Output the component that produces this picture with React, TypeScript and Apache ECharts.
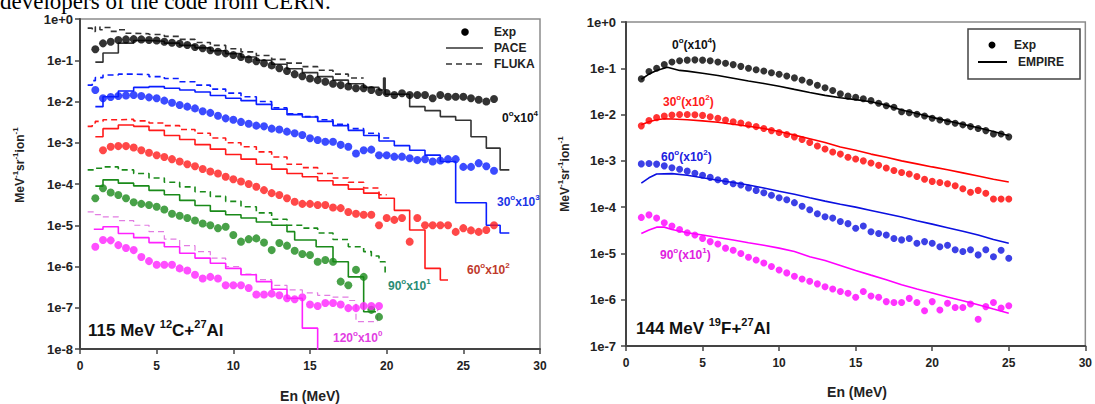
import React, { useEffect, useRef } from 'react';
import * as echarts from 'echarts';

const FONT = '"Liberation Sans", Arial, Helvetica, sans-serif';

// ---------------- Left panel: 115 MeV 12C+27Al ----------------
const L_E_EXP = [1,1.5,2,2.5,3,3.5,4,4.5,5,5.5,6,6.5,7,7.5,8,8.5,9,9.5,10,10.5,11,11.5,12,12.5,13,13.5,14,14.5,15,15.5,16,16.5,17,17.5,18,18.5,19,19.5,20,20.5,21,21.5,22,22.5,23,23.5,24,24.5,25,25.5,26,26.5,27];
const L_E_EXP_RED = [1.5,2,2.5,3,3.5,4,4.5,5,5.5,6,6.5,7,7.5,8,8.5,9,9.5,10,10.5,11,11.5,12,12.5,13,13.5,14,14.5,15,15.5,16,16.5,17,17.5,18,18.5,19,19.5,20,20.5,21,21.5,22,22.5,23,23.5,24,24.5,25,25.5,26,26.5,27];
const L_E_EXP_LOW = [1,1.5,2,2.5,3,3.5,4,4.5,5,5.5,6,6.5,7,7.5,8,8.5,9,9.5,10,10.5,11,11.5,12,12.5,13,13.5,14,14.5,15,15.5,16,16.5,17,17.5,18,18.5,19,19.5];

const L_EXP_0 = [0.184,0.257,0.28,0.31,0.32,0.325,0.32,0.31,0.30,0.28,0.266,0.25,0.234,0.21,0.195,0.175,0.16,0.147,0.134,0.12,0.105,0.095,0.085,0.075,0.064,0.055,0.046,0.041,0.036,0.033,0.030,0.027,0.025,0.023,0.021,0.021,0.019,0.017,0.016,0.0144,0.0158,0.0144,0.0144,0.0144,0.012,0.0144,0.013,0.013,0.013,0.012,0.011,0.010,0.0115];
const L_EXP_30 = [0.019,0.012,0.0128,0.0136,0.014,0.0144,0.0136,0.0126,0.012,0.0105,0.0093,0.0082,0.0075,0.0068,0.0058,0.0053,0.0045,0.0039,0.0036,0.0032,0.0029,0.0026,0.0025,0.0022,0.0021,0.00186,0.0017,0.00154,0.00128,0.00117,0.00106,0.00106,0.00089,0.0008,0.00055,0.00066,0.00068,0.0005,0.0005,0.00046,0.00046,0.00042,0.00038,0.0004,0.00035,0.00037,0.0004,0.0004,0.00026,0.00026,0.00032,0.00027,0.00021];
const L_EXP_60 = [0.00066,0.0008,0.00083,0.00083,0.00077,0.00066,0.00057,0.0005,0.00045,0.0004,0.00035,0.0003,0.00027,0.00023,0.0002,0.00018,0.00015,0.00013,0.000115,0.0001,8.6e-5,7.1e-5,6e-5,5.4e-5,4.5e-5,3.7e-5,3.3e-5,3.3e-5,3.1e-5,3.1e-5,2.7e-5,2.6e-5,2.1e-5,1.9e-5,1.8e-5,1.8e-5,1e-5,1.5e-5,1.35e-5,1.5e-5,4e-6,1.5e-5,1e-5,1e-5,1e-5,1e-5,6.9e-6,8.5e-6,7.5e-6,6.9e-6,7.7e-6,1e-5];
const L_EXP_90 = [4.5e-5,7.9e-5,6.2e-5,5.4e-5,4.5e-5,3.6e-5,3.3e-5,3.1e-5,2.8e-5,2.4e-5,1.9e-5,1.7e-5,1.5e-5,1.3e-5,1.1e-5,1.0e-5,8.5e-6,9.2e-6,5.8e-6,4.0e-6,4.6e-6,4.8e-6,3.8e-6,2.5e-6,3.7e-6,3.2e-6,2.4e-6,2.0e-6,1.9e-6,1.3e-6,1.44e-6,1.3e-6,4.3e-7,3.5e-7,8.3e-7,5.6e-7,8.9e-8,6e-8];
const L_EXP_120 = [3e-6,4.4e-6,4.3e-6,3.3e-6,2.8e-6,2.5e-6,1.7e-6,1.35e-6,1.1e-6,1.1e-6,1.1e-6,9e-7,8e-7,6.3e-7,5.1e-7,5.6e-7,5.1e-7,3.5e-7,3.5e-7,3.5e-7,3e-7,2.1e-7,2.1e-7,2.2e-7,2.0e-7,1.7e-7,1.6e-7,1.8e-7,1.2e-7,1.1e-7,1.3e-7,1.3e-7,1.2e-7,9.8e-8,9.8e-8,1.1e-7,1.1e-7,1.1e-7];

// PACE (solid histograms) and FLUKA (dashed histograms): bin edges and values
const L_PACE_0_E = [1.0,1.5,2.5,3.5,4.5,5.5,6.5,7.5,8.5,9.5,10.5,11.5,12.5,13.5,14.5,15.5,16.5,17.5,18.5,19.5,19.8,19.9,21.5,22.5,23.5,24.5,25.5,26.5,27.4,28.0];
const L_PACE_0 = [0.09,0.15,0.26,0.30,0.29,0.26,0.23,0.20,0.17,0.145,0.12,0.10,0.08,0.062,0.05,0.04,0.033,0.027,0.022,0.019,0.037,0.015,0.0075,0.006,0.0043,0.0035,0.0014,0.00074,0.00022,0.00022];
const L_FLUKA_0_E = [0.5,0.8,1.0,1.3,1.5,2.0,2.5,3.0,3.5,4.5,5.5,6.5,7.5,8.5,9.5,10.5,11.5,12.5,13.5,14.5,15.5,16.5,17.5,18.5];
const L_FLUKA_0 = [0.6,0.5,0.65,0.55,0.62,0.5,0.55,0.45,0.44,0.42,0.38,0.32,0.27,0.23,0.19,0.16,0.13,0.105,0.085,0.07,0.057,0.046,0.037,0.037];

const L_PACE_30_E = [1.0,1.5,2.5,3.5,4.5,5.5,6.5,7.5,8.5,9.5,10.5,11.5,12.5,13.5,14.5,15.5,16.5,17.5,18.5,19.5,20.5,21.5,22.5,23.5,24.5,26.5,27.4,28.0];
const L_PACE_30 = [0.0075,0.013,0.018,0.022,0.023,0.021,0.019,0.017,0.014,0.012,0.0105,0.0085,0.0065,0.0048,0.0042,0.0033,0.0026,0.002,0.0015,0.0011,0.00085,0.00066,0.0005,0.00035,3.5e-5,1e-5,6.5e-6,6.5e-6];
const L_FLUKA_30_E = [0.5,0.8,1.0,1.5,2.5,3.5,4.5,5.5,6.5,7.5,8.5,9.5,10.5,11.5,12.5,13.5,14.5,15.5,16.5,17.5,18.5,19.5,20.2];
const L_FLUKA_30 = [0.025,0.032,0.038,0.044,0.046,0.045,0.04,0.036,0.03,0.025,0.02,0.016,0.013,0.01,0.007,0.005,0.0043,0.0036,0.0028,0.0022,0.0017,0.0013,0.0013];

const L_PACE_60_E = [1.0,1.5,2.5,3.5,4.5,5.5,6.5,7.5,8.5,9.5,10.5,11.5,12.5,13.5,14.5,15.5,16.5,17.5,18.5,19.5,20.5,21.5,22.5,23.5,24.0];
const L_PACE_60 = [0.0014,0.0022,0.0027,0.0025,0.002,0.0015,0.0012,0.0009,0.0007,0.00052,0.0004,0.0003,0.00023,0.00018,0.00015,0.00012,9.5e-5,7.5e-5,6e-5,4.5e-5,2.3e-5,7.7e-6,9e-7,4.7e-7,4.7e-7];
const L_FLUKA_60_E = [0.5,0.8,1.0,1.5,2.5,3.5,4.5,5.5,6.5,7.5,8.5,9.5,10.5,11.5,12.5,13.5,14.5,15.5,16.5,17.5,18.5,19.5,20.0];
const L_FLUKA_60 = [0.0025,0.003,0.0033,0.0036,0.0037,0.0034,0.003,0.0026,0.0021,0.0017,0.0013,0.001,0.0008,0.0006,0.00045,0.0003,0.00025,0.00018,0.00014,0.00011,8e-5,5.5e-5,5.5e-5];

const L_PACE_90_E = [1.0,1.5,2.5,3.5,4.5,5.5,6.5,7.5,8.5,9.5,10.5,11.5,12.5,13.5,14.0,15.4,16.5,17.5,18.5,19.3];
const L_PACE_90 = [8.9e-5,1.26e-4,1.05e-4,9e-5,7e-5,5.5e-5,4e-5,3e-5,2.2e-5,1.8e-5,1.5e-5,1.2e-5,1e-5,7e-6,4.4e-6,3e-6,1.3e-6,5.6e-7,8e-8,8e-8];
const L_FLUKA_90_E = [0.5,1.0,1.5,2.5,3.5,4.5,5.5,6.5,7.5,8.5,9.5,10.5,11.5,12.5,13.5,14.5,15.5,16.5,17.5,18.5,19.0,19.5,19.9];
const L_FLUKA_90 = [2.2e-4,2.4e-4,2.6e-4,2.2e-4,1.8e-4,1.4e-4,1.1e-4,8.5e-5,6.5e-5,5e-5,3.8e-5,2.8e-5,2e-5,1.4e-5,1e-5,8.5e-6,6.5e-6,4.5e-6,3e-6,2.3e-6,1.8e-6,1.3e-6,6.8e-7];

const L_PACE_120_E = [0.9,1.5,2.5,3.5,4.5,5.5,6.5,7.5,8.5,9.5,10.5,11.5,12.5,13.5,14.5,15.5];
const L_PACE_120 = [8e-6,9.2e-6,6.3e-6,5e-6,3.8e-6,3e-6,2.1e-6,1.6e-6,1.2e-6,9e-7,6.3e-7,4.3e-7,2.8e-7,1.7e-7,3.2e-8,1e-9];
const L_FLUKA_120_E = [0.5,1.0,1.5,2.5,3.5,4.5,5.5,6.5,7.5,8.5,9.5,10.5,11.5,12.5,13.5,14.5,15.5,16.5,17.5,18.0,19.4,19.5];
const L_FLUKA_120 = [2.1e-5,1.8e-5,1.6e-5,1.3e-5,1e-5,7e-6,4.6e-6,3.2e-6,2.3e-6,1.6e-6,1e-6,6.5e-7,4.8e-7,3.5e-7,2.7e-7,2.3e-7,2e-7,1.8e-7,1.5e-7,4.6e-8,9e-8,9e-8];

// ---------------- Right panel: 144 MeV 19F+27Al ----------------
const R_E_EXP = [1,1.5,2,2.5,3,3.5,4,4.5,5,5.5,6,6.5,7,7.5,8,8.5,9,9.5,10,10.5,11,11.5,12,12.5,13,13.5,14,14.5,15,15.5,16,16.5,17,17.5,18,18.5,19,19.5,20,20.5,21,21.5,22,22.5,23,23.5,24,24.5,25];
const R_EXP_0 = [0.059,0.085,0.10,0.12,0.137,0.146,0.15,0.152,0.15,0.146,0.137,0.128,0.12,0.11,0.10,0.093,0.087,0.080,0.074,0.068,0.062,0.056,0.050,0.043,0.038,0.033,0.028,0.025,0.0236,0.022,0.020,0.0175,0.0155,0.0144,0.0115,0.011,0.0102,0.0093,0.0083,0.0076,0.0070,0.0065,0.006,0.0055,0.0050,0.0045,0.0038,0.0038,0.0033];
const R_EXP_30 = [0.0057,0.0074,0.0086,0.0093,0.0098,0.01,0.01,0.0099,0.0096,0.009,0.0083,0.0076,0.007,0.0066,0.006,0.0055,0.005,0.0045,0.0041,0.0037,0.0033,0.0029,0.0025,0.0021,0.0018,0.00155,0.0014,0.0012,0.0011,0.001,0.0009,0.0008,0.0007,0.00062,0.00056,0.00052,0.00046,0.0004,0.00036,0.00034,0.00032,0.00029,0.00025,0.00021,0.00023,0.0002,0.00015,0.00015,0.00015];
const R_EXP_60 = [0.00086,0.00088,0.00085,0.00078,0.00071,0.00066,0.0006,0.00054,0.00049,0.00044,0.00039,0.00036,0.00032,0.0003,0.00026,0.00023,0.000205,0.00018,0.00016,0.000145,0.000125,0.000105,8.8e-5,7.2e-5,6.2e-5,5.8e-5,4.9e-5,4.4e-5,3.5e-5,3.9e-5,2.95e-5,2.7e-5,2.5e-5,2.1e-5,1.96e-5,2.1e-5,1.66e-5,1.8e-5,1.66e-5,1.4e-5,1.5e-5,1.2e-5,1.1e-5,1.2e-5,9.3e-6,1.2e-5,8.5e-6,1.17e-5,7.9e-6];
const R_EXP_90 = [6e-5,6.8e-5,5.8e-5,4.6e-5,3.9e-5,3.3e-5,2.8e-5,2.5e-5,2.1e-5,1.8e-5,1.6e-5,1.3e-5,1.17e-5,1e-5,8.3e-6,7.2e-6,6.2e-6,5.2e-6,4.4e-6,3.8e-6,3.2e-6,2.8e-6,2.5e-6,2.2e-6,1.9e-6,1.7e-6,1.5e-6,1.38e-6,1.13e-6,1.5e-6,1.2e-6,1.13e-6,9.1e-7,8.7e-7,8.7e-7,1.07e-6,8.7e-7,5.8e-7,9.1e-7,6e-7,8.4e-7,6.8e-7,6.8e-7,8.1e-7,3.8e-7,7.1e-7,8.7e-7,6.6e-7,7.4e-7];

const R_TH_0_E = [1,1.5,2,2.7,3.5,4,5,6,7,8,9,10,11,12,13,14,15,16,17,18,19,20,21,22,23,24,25];
const R_TH_0 = [0.058,0.075,0.09,0.105,0.09,0.087,0.078,0.07,0.061,0.053,0.047,0.041,0.035,0.030,0.026,0.023,0.021,0.019,0.016,0.0125,0.0105,0.0087,0.0073,0.0062,0.0052,0.0043,0.0035];
const R_TH_30_E = [1,1.5,2,2.5,3,4,5,6,7,8,9,10,11,12,13,14,15,16,17,18,19,20,21,22,23,24,25];
const R_TH_30 = [0.006,0.007,0.0077,0.0081,0.008,0.0077,0.0073,0.0068,0.0062,0.0056,0.005,0.0043,0.0036,0.003,0.0025,0.002,0.0017,0.0014,0.0012,0.001,0.00086,0.00074,0.00064,0.00055,0.00047,0.0004,0.00035];
const R_TH_60_E = [1,1.5,2,3,4,5,6,7,8,9,10,11,12,13,14,15,16,17,18,19,20,21,22,23,24,25];
const R_TH_60 = [0.00033,0.00043,0.00052,0.00053,0.00049,0.00043,0.00038,0.00034,0.0003,0.00026,0.00022,0.00019,0.00016,0.000135,0.000115,0.0001,8.5e-5,7.2e-5,6.1e-5,5.1e-5,4.3e-5,3.6e-5,3e-5,2.5e-5,2e-5,1.66e-5];
const R_TH_90_E = [1,1.5,2,2.5,3,4,5,6,7,8,9,10,11,12,13,14,15,16,17,18,19,20,21,22,23,24,25];
const R_TH_90 = [2.7e-5,3.2e-5,3.7e-5,3.7e-5,3.3e-5,2.8e-5,2.5e-5,2.2e-5,1.95e-5,1.7e-5,1.5e-5,1.3e-5,1.1e-5,8.5e-6,7e-6,5.5e-6,4.3e-6,3.4e-6,2.7e-6,2.1e-6,1.7e-6,1.4e-6,1.15e-6,9.5e-7,7.8e-7,6.3e-7,5.1e-7];

const X_TICKS = [0, 30, 5];

const C = {
  black: '#000000', lineBlack: '#333333',
  blue: '#0a1eff', red: '#ff1a1a', green: '#1a8a1a', magenta: '#ff22ff', magentaLight: '#e27ce2',
  rBlue: '#0b10e0', rRed: '#ff0000', rMag: '#ff00ff',
};

const zip = (E: number[], V: number[]) => E.map((e, i) => [e, V[i]]);

const scat = (ax: number, E: number[], V: number[], color: string, size: number) => ({
  type: 'scatter', xAxisIndex: ax, yAxisIndex: ax, data: zip(E, V), symbol: 'circle',
  symbolSize: size, itemStyle: { color }, z: 4, silent: true,
});
const stepLine = (E: number[], V: number[], color: string, dashed: boolean, width = 1.6) => ({
  type: 'line', xAxisIndex: 0, yAxisIndex: 0, step: 'end', data: zip(E, V), symbol: 'none',
  lineStyle: { color, width, type: dashed ? [6, 4] : 'solid' }, z: 2, silent: true,
});
const thLine = (E: number[], V: number[], color: string) => ({
  type: 'line', xAxisIndex: 1, yAxisIndex: 1, data: zip(E, V), symbol: 'none',
  lineStyle: { color, width: 1.6 }, z: 2, silent: true,
});

const rt = (parts: [string, string][]) => parts.map(([k, t]) => `{${k}|${t}}`).join('');
const richSet = (color: string, size: number, sup: number) => ({
  n: { fontSize: size, fontWeight: 'bold', fontFamily: FONT, fill: color, lineHeight: size + 6 },
  s: { fontSize: sup, fontWeight: 'bold', fontFamily: FONT, fill: color, verticalAlign: 'top', lineHeight: sup + 1 },
});
const label = (x: number, y: number, parts: [string, string][], color: string, size = 12, sup = 8, rotation = 0, align = 'left') => ({
  type: 'text', x, y, rotation, z: 10,
  style: { text: rt(parts), rich: richSet(color, size, sup), align, verticalAlign: 'middle', fill: color },
});
const plain = (x: number, y: number, text: string, size = 12, color = '#222', align = 'left') => ({
  type: 'text', x, y, z: 10,
  style: { text, fontSize: size, fontWeight: 'bold', fontFamily: FONT, fill: color, align, verticalAlign: 'middle' },
});

const logLabel = (v: number) => {
  const e = Math.round(Math.log10(v));
  return e >= 0 ? `1e+${e}` : `1e${e}`;
};

const xAxisCfg = (gi: number) => ({
  gridIndex: gi, type: 'value', min: X_TICKS[0], max: X_TICKS[1], interval: X_TICKS[2],
  axisLine: { show: true, onZero: false, lineStyle: { color: '#444', width: 2 } },
  axisTick: { show: true, length: 5, lineStyle: { color: '#444', width: 1.5 } },
  axisLabel: { fontSize: 12, fontWeight: 'bold', color: '#222', margin: 11, fontFamily: FONT },
  splitLine: { show: false },
});
const yAxisCfg = (gi: number, min: number, split: number, margin: number) => ({
  gridIndex: gi, type: 'log', logBase: 10, min, max: 1, splitNumber: split,
  axisLine: { show: true, lineStyle: { color: '#444', width: 2 } },
  axisTick: { show: true, length: 5, lineStyle: { color: '#444', width: 1.5 } },
  axisLabel: { fontSize: 13, fontWeight: 'bold', color: '#222', margin, fontFamily: FONT, formatter: logLabel },
  splitLine: { show: false },
});

export default function App() {
  const ref = useRef<HTMLDivElement>(null);
  useEffect(() => {
    document.body.style.margin = '0';
    if (!ref.current) return;
    const chart = echarts.init(ref.current, undefined, { renderer: 'svg' });
    const option = {
      animation: false,
      backgroundColor: '#ffffff',
      grid: [
        { left: 80, top: 19, width: 460, height: 330, show: true, borderColor: '#8c8c8c', borderWidth: 1.5 },
        { left: 626, top: 22, width: 462, height: 324, show: true, borderColor: '#8c8c8c', borderWidth: 1.5 },
      ],
      xAxis: [xAxisCfg(0), xAxisCfg(1)],
      yAxis: [yAxisCfg(0, 1e-8, 8, 7), yAxisCfg(1, 1e-7, 7, 10)],
      series: [
        // left: FLUKA dashed
        stepLine(L_FLUKA_0_E, L_FLUKA_0, C.lineBlack, true),
        stepLine(L_FLUKA_30_E, L_FLUKA_30, C.blue, true),
        stepLine(L_FLUKA_60_E, L_FLUKA_60, C.red, true),
        stepLine(L_FLUKA_90_E, L_FLUKA_90, C.green, true),
        stepLine(L_FLUKA_120_E, L_FLUKA_120, C.magentaLight, true, 1.2),
        // left: PACE solid
        stepLine(L_PACE_0_E, L_PACE_0, C.lineBlack, false),
        stepLine(L_PACE_30_E, L_PACE_30, C.blue, false),
        stepLine(L_PACE_60_E, L_PACE_60, C.red, false),
        stepLine(L_PACE_90_E, L_PACE_90, C.green, false),
        stepLine(L_PACE_120_E, L_PACE_120, C.magenta, false),
        // left: Exp
        scat(0, L_E_EXP, L_EXP_0, C.black, 8),
        scat(0, L_E_EXP, L_EXP_30, C.blue, 8),
        scat(0, L_E_EXP_RED, L_EXP_60, C.red, 8),
        scat(0, L_E_EXP_LOW, L_EXP_90, C.green, 8),
        scat(0, L_E_EXP_LOW, L_EXP_120, C.magenta, 8),
        // right: EMPIRE
        thLine(R_TH_0_E, R_TH_0, C.black),
        thLine(R_TH_30_E, R_TH_30, C.rRed),
        thLine(R_TH_60_E, R_TH_60, C.rBlue),
        thLine(R_TH_90_E, R_TH_90, C.rMag),
        // right: Exp
        scat(1, R_E_EXP, R_EXP_0, C.black, 7),
        scat(1, R_E_EXP, R_EXP_30, C.rRed, 7),
        scat(1, R_E_EXP, R_EXP_60, C.rBlue, 7),
        scat(1, R_E_EXP, R_EXP_90, C.rMag, 7),
      ],
      graphic: [
        { type: 'text', x: 0, y: 1, z: 10, style: { text: 'developers of the code from CERN.', fontSize: 23, fontFamily: '"Liberation Serif", "Times New Roman", serif', fill: '#000', align: 'left', verticalAlign: 'middle' } },
        // axis titles
        plain(310, 396, 'En (MeV)', 14, '#222', 'center'),
        plain(857, 392, 'En (MeV)', 14, '#222', 'center'),
        label(20, 165, [['n', 'MeV'], ['s', '-1'], ['n', 'sr'], ['s', '-1'], ['n', 'ion'], ['s', '-1']], '#222', 12, 8, Math.PI / 2, 'center'),
        label(565, 174, [['n', 'MeV'], ['s', '-1'], ['n', 'sr'], ['s', '-1'], ['n', 'ion'], ['s', '-1']], '#222', 12, 8, Math.PI / 2, 'center'),
        // left legend
        { type: 'circle', z: 10, shape: { cx: 465, cy: 32, r: 3.8 }, style: { fill: '#000' } },
        { type: 'line', z: 10, shape: { x1: 446, y1: 48, x2: 483, y2: 48 }, style: { stroke: '#333', lineWidth: 1.6 } },
        { type: 'line', z: 10, shape: { x1: 446, y1: 64, x2: 483, y2: 64 }, style: { stroke: '#333', lineWidth: 1.6, lineDash: [6, 4] } },
        plain(494, 32, 'Exp'),
        plain(494, 48, 'PACE'),
        plain(494, 64, 'FLUKA'),
        // right legend
        { type: 'rect', z: 10, shape: { x: 968, y: 29, width: 112, height: 50 }, style: { fill: '#fff', stroke: '#444', lineWidth: 1.5 } },
        { type: 'circle', z: 11, shape: { cx: 992, cy: 45, r: 3.5 }, style: { fill: '#000' } },
        { type: 'line', z: 11, shape: { x1: 978, y1: 62, x2: 1007, y2: 62 }, style: { stroke: '#000', lineWidth: 2 } },
        plain(1014, 45, 'Exp'),
        plain(1018, 62, 'EMPIRE'),
        // left series labels
        label(502, 118, [['n', '0'], ['s', 'o'], ['n', 'x10'], ['s', '4']], '#111'),
        label(497, 202, [['n', '30'], ['s', 'o'], ['n', 'x10'], ['s', '3']], '#1a33e6'),
        label(467, 270, [['n', '60'], ['s', 'o'], ['n', 'x10'], ['s', '2']], '#c0392b'),
        label(388, 286, [['n', '90'], ['s', 'o'], ['n', 'x10'], ['s', '1']], '#2a8c74'),
        label(333, 338, [['n', '120'], ['s', 'o'], ['n', 'x10'], ['s', '0']], '#e23ee2'),
        label(88, 330, [['n', '115 MeV '], ['s', '12'], ['n', 'C+'], ['s', '27'], ['n', 'Al']], '#111', 17, 11),
        // right series labels
        label(672, 45, [['n', '0'], ['s', 'o'], ['n', '(x10'], ['s', '4'], ['n', ')']], '#111'),
        label(663, 102, [['n', '30'], ['s', 'o'], ['n', '(x10'], ['s', '2'], ['n', ')']], '#ff1a1a'),
        label(661, 157, [['n', '60'], ['s', 'o'], ['n', '(x10'], ['s', '2'], ['n', ')']], '#2020e0'),
        label(660, 255, [['n', '90'], ['s', 'o'], ['n', '(x10'], ['s', '1'], ['n', ')']], '#e020e0'),
        label(636, 328, [['n', '144 MeV '], ['s', '19'], ['n', 'F+'], ['s', '27'], ['n', 'Al']], '#111', 17, 11),
      ],
    };
    chart.setOption(option as any);
    return () => chart.dispose();
  }, []);
  return <div ref={ref} style={{ width: 1095, height: 404 }} />;
}
